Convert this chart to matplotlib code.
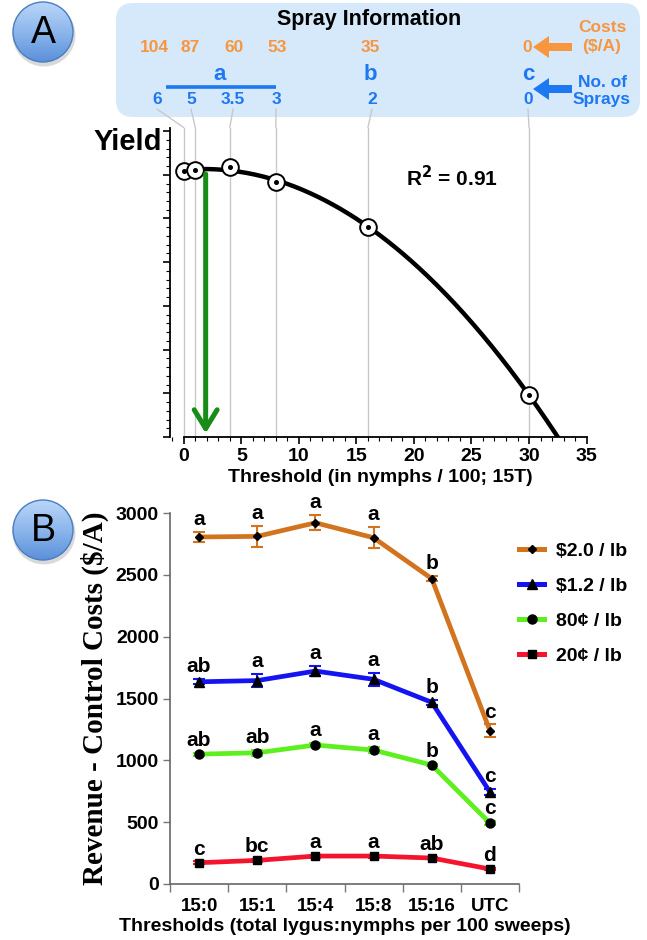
import numpy as np
import matplotlib
matplotlib.use("Agg")
import matplotlib.pyplot as plt
from matplotlib.patches import Circle, FancyBboxPatch, FancyArrow, FancyArrowPatch, ConnectionPatch
from matplotlib.lines import Line2D
from matplotlib.ticker import MultipleLocator
from matplotlib.colors import LinearSegmentedColormap

# =============================================================================
# Data
# =============================================================================

# Panel A: yield vs threshold
thresh_x = [0, 1, 4, 8, 16, 30]
yield_y = [6.09, 6.11, 6.18, 5.84, 4.81, 0.96]
arrow_x = 1.9
r_squared = "0.91"

# Spray information box
costs = ["104", "87", "60", "53", "35", "0"]
sprays = ["6", "5", "3.5", "3", "2", "0"]
groups = ["a", "b", "c"]

# Panel B: revenue - control costs
categories = ["15:0", "15:1", "15:4", "15:8", "15:16", "UTC"]
series_labels = ["\\$2.0 / lb", "\\$1.2 / lb", "80¢ / lb", "20¢ / lb"]
rev_200 = [2806, 2811, 2921, 2800, 2469, 1240]
err_200 = [39, 84, 60, 87, 22, 50]
rev_120 = [1635, 1645, 1722, 1655, 1469, 744]
err_120 = [20, 52, 40, 54, 18, 25]
rev_080 = [1050, 1061, 1124, 1083, 962, 493]
err_080 = [12, 22, 15, 25, 10, 15]
rev_020 = [172, 191, 226, 226, 210, 121]
err_020 = [10, 12, 12, 12, 10, 10]
let_200 = ["a", "a", "a", "a", "b", "c"]
let_120 = ["ab", "a", "a", "a", "b", "c"]
let_080 = ["ab", "ab", "a", "a", "b", "c"]
let_020 = ["c", "bc", "a", "a", "ab", "d"]

# =============================================================================
# Style
# =============================================================================

plt.rcParams["font.family"] = ["Liberation Sans", "DejaVu Sans"]
plt.rcParams["font.weight"] = "bold"
plt.rcParams["axes.labelweight"] = "bold"

ORANGE_TXT = "#F7963F"
BLUE_TXT = "#1E78F2"
BOX_FILL = "#D5E9FB"
GRID_GRAY = "#C8C8C8"
LINE_COLORS = ["#D2731E", "#1414F2", "#5EF01E", "#F5142D"]
MARKERS = ["D", "^", "o", "s"]
MSIZES = [4.5, 6.5, 6.5, 6]

W, H = 647, 940
fig = plt.figure(figsize=(W / 100, H / 100), dpi=100)

# overlay in pixel coords for decorations
ov = fig.add_axes([0, 0, 1, 1], zorder=0)
ov.set_xlim(0, W)
ov.set_ylim(H, 0)
ov.axis("off")

# ---------------------------------------------------------
# Panel letters (gradient blue circles)
# ---------------------------------------------------------
circ_cmap = LinearSegmentedColormap.from_list("circ", ["#BAD6F8", "#8CB6EC", "#5B91DA"])
for cx, cy, letter in [(43, 32, "A"), (43, 530, "B")]:
    r = 30
    ov.add_patch(Circle((cx + 1, cy + 3), r + 1.5, color="black", alpha=0.15, lw=0))
    clip = Circle((cx, cy), r, transform=ov.transData)
    grad = np.linspace(0, 1, 100).reshape(-1, 1)
    im = ov.imshow(grad, cmap=circ_cmap, extent=(cx - r, cx + r, cy + r, cy - r),
                   aspect="auto", zorder=1)
    im.set_clip_path(clip)
    ov.add_patch(Circle((cx, cy), r, fill=False, ec="#4A7DC0", lw=1.0, zorder=2))
    ov.text(cx, cy + 1, letter, fontsize=27, fontweight="normal",
            ha="center", va="center", zorder=3)
ov.set_xlim(0, W)
ov.set_ylim(H, 0)

# ---------------------------------------------------------
# Spray information box
# ---------------------------------------------------------
ov.add_patch(FancyBboxPatch((116, 3), 524, 114,
                            boxstyle="round,pad=0,rounding_size=17",
                            fc=BOX_FILL, ec="none", zorder=0.5))
ov.text(369, 19, "Spray Information", fontsize=15.5, ha="center", va="center")

cost_px = [154, 190, 234, 277, 370, 527]
spray_px = [157, 191, 233, 276, 372, 528]
group_px = [220, 370, 528]
for xp, c in zip(cost_px, costs):
    ov.text(xp, 47, c, color=ORANGE_TXT, fontsize=12.5, ha="center", va="center")
for xp, s in zip(spray_px, sprays):
    ov.text(xp, 100, s, color=BLUE_TXT, fontsize=12.5, ha="center", va="center")
for xp, g in zip(group_px, groups):
    ov.text(xp, 75, g, color=BLUE_TXT, fontsize=16, ha="center", va="center")
ov.plot([166, 276], [87, 87], color=BLUE_TXT, lw=2.6, solid_capstyle="butt")

ov.text(602, 37, "Costs\n($/A)", color=ORANGE_TXT, fontsize=12.5,
        ha="center", va="center", linespacing=1.3)
ov.text(602, 91, "No. of\nSprays", color=BLUE_TXT, fontsize=12.5,
        ha="center", va="center", linespacing=1.2)
ov.add_patch(FancyArrow(572, 47, -39, 0, width=8, head_width=22, head_length=16,
                        length_includes_head=True, color=ORANGE_TXT, lw=0))
ov.add_patch(FancyArrow(572, 89, -39, 0, width=8, head_width=22, head_length=16,
                        length_includes_head=True, color=BLUE_TXT, lw=0))

# =============================================================================
# Panel A
# =============================================================================
ax_a = fig.add_axes([170 / W, 1 - 437 / H, 420 / W, 309.4 / H], zorder=2)
ax_a.set_facecolor("none")
ax_a.set_xlim(-1.2, 35.3)
ax_a.set_ylim(0, 7.08)

for xv in thresh_x:
    ax_a.axvline(xv, color=GRID_GRAY, lw=1, zorder=0)

coef = np.polyfit(thresh_x, yield_y, 2)
xs = np.linspace(0, 34, 300)
ax_a.plot(xs, np.polyval(coef, xs), color="black", lw=3.2, zorder=2)

ax_a.plot(thresh_x, yield_y, "o", ms=12, mfc="white", mec="black", mew=1.4, zorder=3)
ax_a.plot(thresh_x, yield_y, "o", ms=2.6, color="black", zorder=4)

ax_a.add_patch(FancyArrowPatch((arrow_x, np.polyval(coef, arrow_x) - 0.05), (arrow_x, 0.02),
                               arrowstyle="->,head_length=0.9,head_width=0.55",
                               mutation_scale=15, lw=3.6, color="#178C17", zorder=3))

ax_a.text(19.3, 5.93, "R$^\\mathbf{2}$ = " + r_squared, fontsize=15, ha="left", va="center")
ax_a.text(-1.9, 6.75, "Yield", fontsize=21, ha="right", va="center")

ax_a.spines["top"].set_visible(False)
ax_a.spines["right"].set_visible(False)
ax_a.spines["bottom"].set_bounds(0, 35)
for s in ["left", "bottom"]:
    ax_a.spines[s].set_linewidth(1.3)
ax_a.xaxis.set_major_locator(MultipleLocator(5))
ax_a.xaxis.set_minor_locator(MultipleLocator(1))
ax_a.yaxis.set_major_locator(MultipleLocator(1))
ax_a.yaxis.set_minor_locator(MultipleLocator(0.2))
ax_a.tick_params(axis="x", which="major", length=5, width=1.2, labelsize=14, pad=3)
ax_a.tick_params(axis="x", which="minor", length=3, width=0.8)
ax_a.tick_params(axis="y", which="major", length=5, width=1.2, labelleft=False)
ax_a.tick_params(axis="y", which="minor", length=3, width=0.8)
ax_a.set_xlabel("Threshold (in nymphs / 100; 15T)", fontsize=14, labelpad=3)

# connectors from spray numbers down to the thresholds
ytop = ax_a.get_ylim()[1]
for xp, xv in zip(spray_px, thresh_x):
    con = ConnectionPatch(xyA=(xp, 109), coordsA=ov.transData,
                          xyB=(xv, ytop), coordsB=ax_a.transData,
                          color=GRID_GRAY, lw=1)
    fig.add_artist(con)

# =============================================================================
# Panel B
# =============================================================================
ax_b = fig.add_axes([170 / W, 1 - 884 / H, 349 / W, 371 / H], zorder=2)
ax_b.set_facecolor("none")
xpos = np.arange(len(categories)) + 0.5

series = [(rev_200, err_200, let_200), (rev_120, err_120, let_120),
          (rev_080, err_080, let_080), (rev_020, err_020, let_020)]
handles = []
for (vals, errs, lets), col, mk, ms, lab in zip(series, LINE_COLORS, MARKERS, MSIZES, series_labels):
    ax_b.errorbar(xpos, vals, yerr=errs, color=col, lw=3.4, capsize=4, capthick=1.5,
                  elinewidth=1.5, marker=mk, ms=ms, mfc="black", mec="black", zorder=3)
    for xv, v, e, t in zip(xpos, vals, errs, lets):
        ax_b.annotate(t, (xv, v + e), xytext=(0, 5), textcoords="offset points",
                      ha="center", va="baseline", fontsize=15)
    handles.append(Line2D([], [], color=col, lw=3.6, marker=mk, ms=ms,
                          mfc="black", mec="black"))

ax_b.set_xlim(0, 6)
ax_b.set_ylim(0, 3000)
ax_b.set_xticks(np.arange(0, 7))
ax_b.set_xticklabels([])
ax_b.set_xticks(xpos, minor=True)
ax_b.set_xticklabels(categories, minor=True)
ax_b.yaxis.set_major_locator(MultipleLocator(500))
ax_b.tick_params(axis="x", which="major", length=6, width=1, color="#777777")
ax_b.tick_params(axis="x", which="minor", length=0, labelsize=13.5, pad=10)
ax_b.tick_params(axis="y", length=5, width=1, color="#777777", labelsize=14, pad=3)
ax_b.spines["top"].set_visible(False)
ax_b.spines["right"].set_visible(False)
for s in ["left", "bottom"]:
    ax_b.spines[s].set_color("#666666")
    ax_b.spines[s].set_linewidth(1.2)
ax_b.set_xlabel("Thresholds (total lygus:nymphs per 100 sweeps)", fontsize=14, labelpad=2)
ax_b.set_ylabel("Revenue - Control Costs (\\$/A)", fontsize=21,
                family=["Liberation Serif", "DejaVu Serif"], labelpad=5)

fig.legend(handles, series_labels, loc="upper left",
           bbox_to_anchor=(519 / W, 1 - 542 / H), frameon=False,
           prop={"weight": "bold", "size": 14}, handlelength=1.3,
           handletextpad=0.62, labelspacing=0.9, borderaxespad=0, borderpad=0)

fig.savefig("out.png", dpi=100)
